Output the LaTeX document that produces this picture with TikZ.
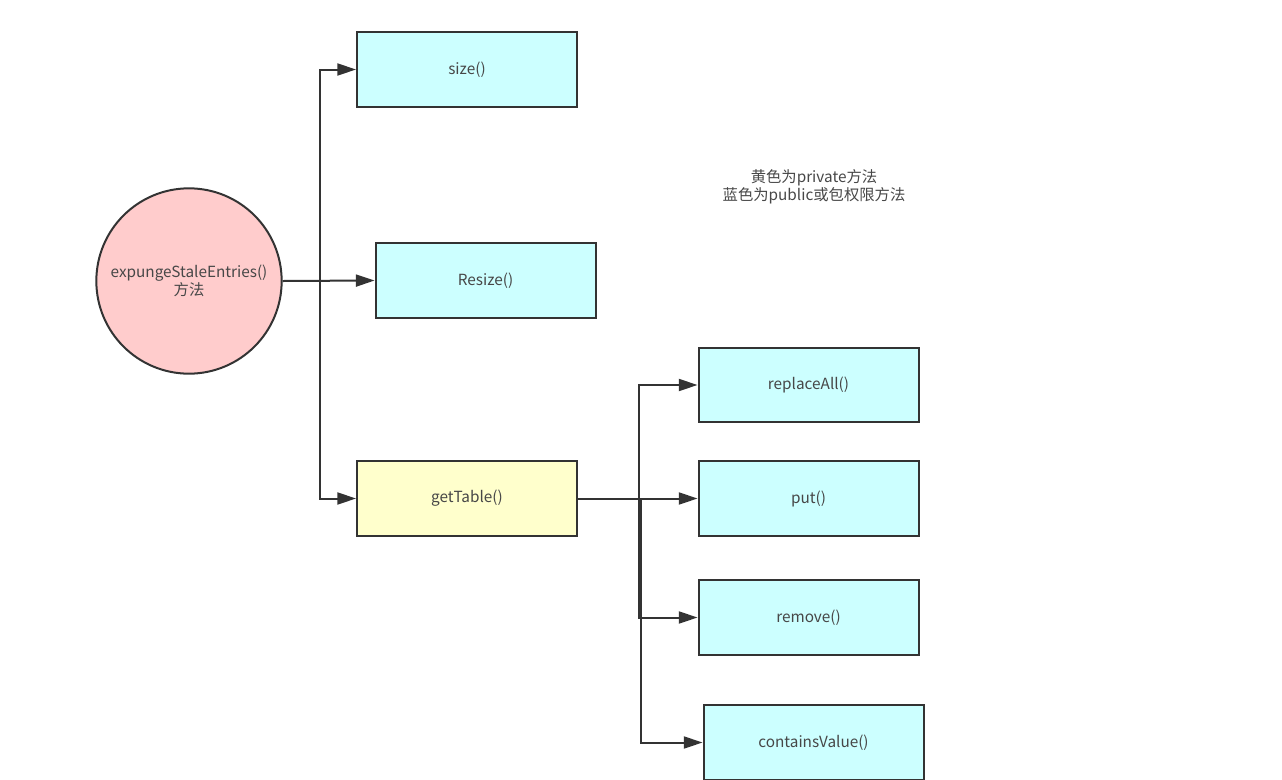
\documentclass[tikz,border=0pt]{standalone}
\usepackage{fontspec}
\setmainfont{Noto Sans CJK SC}
\usetikzlibrary{arrows.meta}
\definecolor{linea}{HTML}{333333}
\definecolor{rosa}{HTML}{FFCCCC}
\definecolor{ciano}{HTML}{CCFFFF}
\definecolor{giallo}{HTML}{FFFFCC}
\newcommand{\testo}{\fontsize{11.5pt}{13.5pt}\selectfont}
\tikzset{
  metodo/.style  = {rectangle, draw=linea, line width=1.5pt, fill=ciano, minimum width=165pt, minimum height=56pt, font=\testo, text=linea!90},
  privato/.style = {metodo, fill=giallo},
  radice/.style  = {circle, draw=linea, line width=1.5pt, fill=rosa, minimum size=139pt, inner sep=0pt, font=\testo, text=linea!90, align=center},
  nota/.style    = {font=\testo, text=linea!90, align=center},
  f/.style       = {draw=linea, line width=1.5pt, -{Triangle[length=14pt, width=9pt]}}
}
\begin{document}
\begin{tikzpicture}[x=0.75pt, y=-0.75pt]
  \useasboundingbox (0,0) rectangle (1282,779);

  % metodo di partenza
  \node[radice] (exp) at (189,281) {expungeStaleEntries()\\方法};

  % primo livello
  \node[metodo]  (size) at (467,69.5)   {size()};
  \node[metodo]  (res)  at (485.5,280.5) {Resize()};
  \node[privato] (gt)   at (467,498.5)  {getTable()};

  % secondo livello
  \node[metodo] (ra)  at (808.5,385)   {replaceAll()};
  \node[metodo] (put) at (808.5,498.5) {put()};
  \node[metodo] (rem) at (808.5,617.5) {remove()};
  \node[metodo] (cv)  at (813.5,742.5) {containsValue()};

  % legenda
  \node[nota] (leg) at (814,187) {黄色为private方法\\蓝色为public或包权限方法};

  % ---------------- CHIAMATE ----------------
  \draw[f] (exp.east) -- (res.west);
  \draw[f] (exp.east) -- ++(37,0) |- (size.west);
  \draw[f] (exp.east) -- ++(37,0) |- (gt.west);

  \draw[f] (gt.east) -- (put.west);
  \draw[f] (gt.east) -- ++(61,0) |- (ra.west);
  \draw[f] (gt.east) -- ++(61,0) |- (rem.west);
  \draw[f] (gt.east) -- ++(63,0) |- (cv.west);

\end{tikzpicture}
\end{document}
